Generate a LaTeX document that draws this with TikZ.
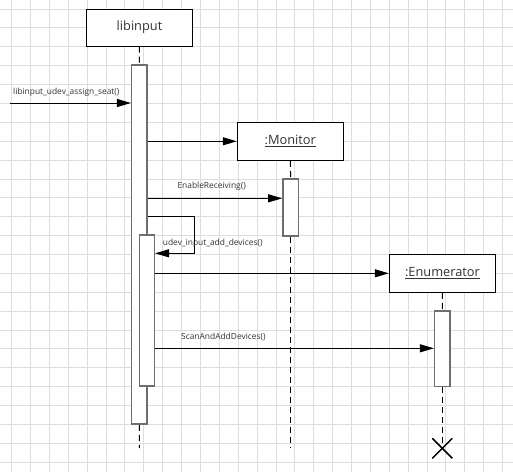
\documentclass[tikz,border=0pt]{standalone}
\usepackage{fontspec}
\setmainfont{Open Sans}
\usetikzlibrary{arrows.meta}
\definecolor{gridc}{HTML}{DDDDDD}
\definecolor{barc}{HTML}{6E6E6E}
\definecolor{txt}{HTML}{333333}
\tikzset{
  objbox/.style={draw=black, line width=1pt, fill=white, inner sep=0pt, font=\fontsize{12.8}{14}\selectfont, text=txt},
  actbar/.style={draw=barc, line width=1.5pt, fill=white, inner sep=0pt, minimum width=15.3pt},
  life/.style={draw=black, line width=1pt, dash pattern=on 6pt off 4pt},
  msg/.style={draw=black, line width=1pt, -{Triangle[length=14pt,width=8pt]}},
  lbl/.style={inner sep=0pt, anchor=west, text=txt, font=\fontsize{8.4}{10}\selectfont},
  gridline/.style={draw=gridc, line width=1pt}
}
\begin{document}
\begin{tikzpicture}[x=1pt,y=-1pt]
\useasboundingbox (0,0) rectangle (513,472);
\fill[white] (0,0) rectangle (513,472);
% grid
\foreach \i in {0,...,27} \draw[gridline] ({11.7+\i*18.88},0) -- ({11.7+\i*18.88},472);
\foreach \j in {0,...,25} \draw[gridline] (0,{9.1+\j*18.88}) -- (513,{9.1+\j*18.88});

% objects
\node[objbox, minimum width=105.6pt, minimum height=36.7pt] (lib) at (139.5,27.65) {libinput};
\node[objbox, minimum width=106pt, minimum height=38pt] (mon) at (290.3,141.3) {\underline{:Monitor}};
\node[objbox, minimum width=106.4pt, minimum height=38pt] (enum) at (442.5,273.3) {\underline{:Enumerator}};

% end coordinates
\coordinate (libend) at (139.3,448);
\coordinate (monend) at (290.6,447);
\coordinate (enumx) at (442.3,448.3);
\coordinate (src) at (10,103);

% activation bars (placed first for lifelines)
\node[actbar, minimum height=359pt] (mainbar) at (139.35,244.5) {};
\node[actbar, minimum height=57pt] (monbar) at (290.6,207.5) {};
\node[actbar, minimum height=75.7pt] (enumbar) at (442.3,348.85) {};

% lifelines
\draw[life] (lib.south) -- (mainbar.north);
\draw[life] (mainbar.south) -- (libend);
\draw[life] (mon.south) -- (monbar.north);
\draw[life] (monbar.south) -- (monend);
\draw[life] (enum.south) -- (enumbar.north);
\draw[life] (enumbar.south) -- (enumx);

% redraw bars on top of lifelines
\node[actbar, minimum height=359pt] at (mainbar) {};
\node[actbar, minimum height=57pt] at (monbar) {};
\node[actbar, minimum height=75.7pt] at (enumbar) {};
\node[actbar, minimum width=15pt, minimum height=151pt] (nestbar) at (146.8,310.5) {};

% messages
\draw[msg] (src) -- (mainbar.west |- src);
\node[lbl] (l1) at (13,92.3) {libinput\_udev\_assign\_seat()};

\draw[msg] (mainbar.east |- mon.west) -- (mon.west);

\draw[msg] (mainbar.east |- 0,198.3) -- (monbar.west |- 0,198.3);
\node[lbl] (l2) at (177.3,186) {EnableReceiving()};

\draw[msg] (mainbar.east |- 0,216.7) -- (194.3,216.7) -- (194.3,253.3) -- (nestbar.east |- 0,253.3);
\node[lbl] (l3) at (162.7,243.3) {udev\_input\_add\_devices()};

\draw[msg] (nestbar.east |- enum.west) -- (enum.west);

\draw[msg] (nestbar.east |- 0,348.3) -- (enumbar.west |- 0,348.3);
\node[lbl] (l4) at (181,336.7) {ScanAndAddDevices()};

% destruction X
\draw[line width=1.5pt] (enumx) ++(-10,-10) -- ++(20,20);
\draw[line width=1.5pt] (enumx) ++(10,-10) -- ++(-20,20);
\end{tikzpicture}
\end{document}
